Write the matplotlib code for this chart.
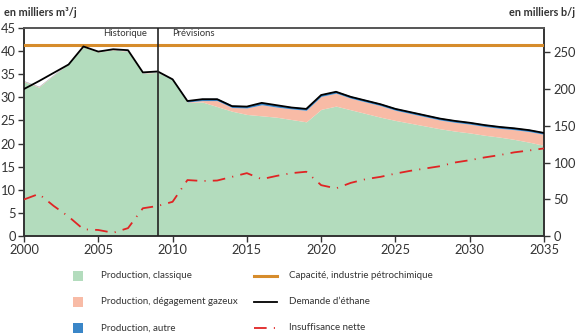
import matplotlib
matplotlib.use("Agg")
import matplotlib.pyplot as plt
import numpy as np
from matplotlib.patches import Rectangle
from matplotlib.lines import Line2D

plt.rcParams['font.family'] = ['Lato', 'DejaVu Sans']

years = list(range(2000, 2036))
classique = [33.4, 32.2, 34.8, 37.3, 40.9, 39.8, 40.3, 39.9, 35.2, 35.4,
             33.8, 28.9, 29.0, 28.0, 27.0, 26.3, 26.0, 25.7, 25.2, 24.7,
             27.4, 28.1, 27.3, 26.5, 25.7, 25.0, 24.4, 23.8, 23.2, 22.7,
             22.3, 21.8, 21.4, 20.9, 20.3, 19.6]
degagement = [0.15, 0.15, 0.1, 0.1, 0.1, 0.1, 0.1, 0.1, 0.1, 0.1,
              0.0, 0.1, 0.3, 1.3, 0.8, 1.4, 2.4, 2.2, 2.3, 2.5,
              2.8, 2.8, 2.5, 2.5, 2.5, 2.2, 2.1, 2.0, 1.9, 1.9,
              1.9, 1.9, 1.9, 2.1, 2.3, 2.4]
autre = [0.05] * 10 + [0.2, 0.3] + [0.5] * 24
demande = [31.8, 33.5, 35.3, 37.1, 41.0, 39.9, 40.4, 40.2, 35.4, 35.6,
           33.9, 29.2, 29.6, 29.6, 28.1, 28.0, 28.8, 28.3, 27.8, 27.5,
           30.5, 31.2, 30.1, 29.3, 28.5, 27.5, 26.8, 26.1, 25.4, 24.9,
           24.5, 24.0, 23.6, 23.3, 22.9, 22.3]
insuffisance = [7.9, 9.1, 6.5, 4.2, 1.45, 1.3, 0.7, 1.7, 6.0, 6.5,
                7.4, 12.1, 11.9, 12.0, 12.8, 13.6, 12.3, 13.0, 13.6, 13.9,
                11.0, 10.3, 11.5, 12.3, 12.8, 13.5, 14.1, 14.6, 15.1, 15.9,
                16.4, 17.0, 17.5, 18.1, 18.5, 18.95]
capacite = 41.3
annee_transition = 2009
m3_to_bbl = 6.29

c_green = '#b3dcbd'
c_pink = '#f8bba6'
c_blue = '#3a86c8'
c_orange = '#d68c2c'
c_red = '#e02424'
c_text = '#333333'

W, H = 580, 334
fig = plt.figure(figsize=(W / 100, H / 100), dpi=100)
ax = fig.add_axes([24 / W, 1 - 236 / H, 520 / W, 208 / H])

y = np.array(years)
c = np.array(classique)
d = np.array(degagement)
a = np.array(autre)
ax.fill_between(y, 0, c, color=c_green, lw=0)
ax.fill_between(y, c, c + d, color=c_pink, lw=0)
ax.fill_between(y, c + d, c + d + a, color=c_blue, lw=0)
ax.plot(y, demande, color='black', lw=1.3, zorder=4)
ax.axhline(capacite, color=c_orange, lw=2.2, zorder=3)
ax.plot(y, insuffisance, color=c_red, lw=1.3, dashes=(7, 4, 0.6, 4), zorder=4)
ax.axvline(annee_transition, color='#222222', lw=1.2, zorder=5)

ax.set_xlim(2000, 2035)
ax.set_ylim(0, 45)
ax.set_xticks(range(2000, 2036, 5))
ax.set_yticks(range(0, 46, 5))
for s in ['left', 'bottom', 'right']:
    ax.spines[s].set_color('#333333')
    ax.spines[s].set_linewidth(1.4)
ax.spines['top'].set_color('#555555')
ax.spines['top'].set_linewidth(1.4)
ax.tick_params(axis='both', direction='out', length=4, width=1, color='#333333',
               labelsize=9.3, labelcolor=c_text, pad=2)

ax2 = ax.twinx()
ax2.set_ylim(0, 45 * m3_to_bbl)
ax2.set_yticks(range(0, 251, 50))
for s in ['left', 'bottom', 'right', 'top']:
    ax2.spines[s].set_visible(False)
ax2.tick_params(axis='y', direction='out', length=4, width=1, color='#333333',
                labelsize=9.3, labelcolor=c_text, pad=3)

ax.text(annee_transition - 0.7, 43.9, 'Historique', ha='right', va='center',
        fontsize=6.8, color=c_text)
ax.text(annee_transition + 1.0, 43.9, 'Prévisions', ha='left', va='center',
        fontsize=6.8, color=c_text)

fig.text(4 / W, 1 - 12 / H, 'en milliers m³/j', ha='left', va='center',
         fontsize=7.8, fontweight='bold', color=c_text)
fig.text(575 / W, 1 - 13 / H, 'en milliers b/j', ha='right', va='center',
         fontsize=7.8, fontweight='bold', color=c_text)

# legend
rows = [276, 302, 328]
left_items = [('Production, classique', c_green),
              ('Production, dégagement gazeux', c_pink),
              ('Production, autre', c_blue)]
for (lab, col), ry in zip(left_items, rows):
    fig.add_artist(Rectangle((73 / W, 1 - (ry + 5) / H), 10 / W, 10 / H,
                             transform=fig.transFigure, color=col, lw=0))
    fig.text(101 / W, 1 - ry / H, lab, ha='left', va='center', fontsize=7,
             color=c_text)
right_items = [('Capacité, industrie pétrochimique',
                dict(color=c_orange, lw=2.2)),
               ('Demande d’éthane', dict(color='black', lw=1.3)),
               ('Insuffisance nette', dict(color=c_red, lw=1.3,
                                            dashes=(7, 4, 0.6, 4)))]
for (lab, kw), ry in zip(right_items, rows):
    fig.add_artist(Line2D([254 / W, 277 / W], [1 - ry / H, 1 - ry / H],
                          transform=fig.transFigure, **kw))
    fig.text(289 / W, 1 - ry / H, lab, ha='left', va='center', fontsize=7,
             color=c_text)

fig.savefig('out.png', dpi=100)
